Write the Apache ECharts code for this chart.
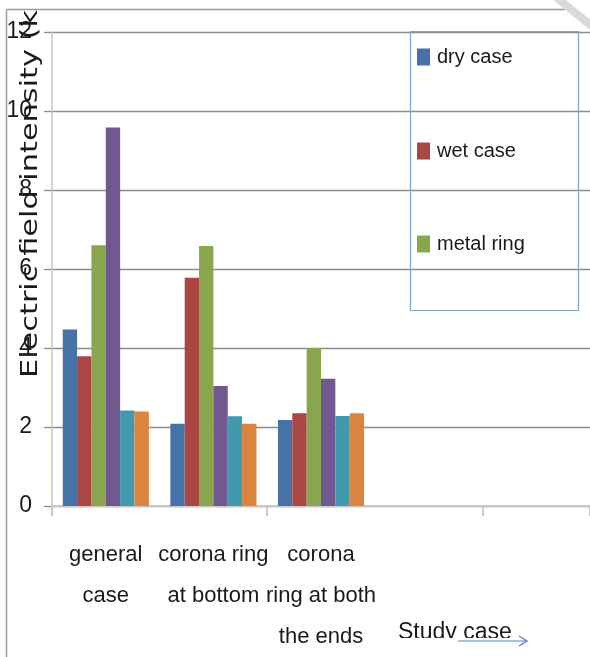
<!DOCTYPE html>
<html>
<head>
<meta charset="utf-8">
<script src="https://cdn.jsdelivr.net/npm/echarts@6/dist/echarts.min.js"></script>
<style>
  html, body { margin: 0; padding: 0; background: #fff; }
  #chart { width: 590px; height: 657px; }
</style>
</head>
<body>
<div id="chart"></div>
<script>
// Study cases along the x axis (two trailing slots are left empty)
const categories = ['general\ncase', 'corona ring\nat bottom', 'corona\nring at both\nthe ends', '', ''];

// Series names (only the first three appear in the legend)
const seriesNames = ['dry case', 'wet case', 'metal ring', 'case 4', 'case 5', 'case 6'];

// Field intensity per study case
const dryCase   = [4.47, 2.08, 2.18, null, null];
const wetCase   = [3.79, 5.78, 2.35, null, null];
const metalRing = [6.60, 6.58, 4.00, null, null];
const case4     = [9.58, 3.04, 3.22, null, null];
const case5     = [2.42, 2.27, 2.28, null, null];
const case6     = [2.39, 2.08, 2.35, null, null];

// Value axis ticks
const yTicks = [0, 2, 4, 6, 8, 10, 12];

const seriesValues = [dryCase, wetCase, metalRing, case4, case5, case6];
const palette = ['#4572A7', '#AA4643', '#89A54E', '#71588F', '#4198AF', '#DB843D'];
const sans = "'Liberation Sans', Arial, sans-serif";

const chart = echarts.init(document.getElementById('chart'), null, { renderer: 'canvas' });

const legendTops = [47, 141, 234];
const legends = [0, 1, 2].map(i => ({
  data: [seriesNames[i]],
  left: 417,
  top: legendTops[i],
  padding: 0,
  itemWidth: 13,
  itemHeight: 17,
  itemGap: 0,
  icon: 'rect',
  textStyle: { fontFamily: sans, fontSize: 20, color: '#1a1a1a', padding: [0, 0, 0, 2] },
  selectedMode: false
}));

chart.setOption({
  animation: false,
  color: palette,
  grid: { left: 52, right: 0, top: 32, bottom: 146, containLabel: false },
  legend: legends,
  xAxis: {
    type: 'category',
    data: categories,
    boundaryGap: true,
    axisLine: { show: true, lineStyle: { color: '#c8c8c8', width: 2 } },
    axisTick: { show: true, interval: 1, length: 10, lineStyle: { color: '#c8c8c8', width: 2 } },
    axisLabel: {
      interval: 0,
      margin: 28,
      fontFamily: sans,
      fontSize: 22,
      lineHeight: 41,
      color: '#1a1a1a',
      align: 'center'
    }
  },
  yAxis: {
    type: 'value',
    min: yTicks[0],
    max: yTicks[yTicks.length - 1],
    interval: yTicks[1] - yTicks[0],
    axisLine: { show: true, lineStyle: { color: '#d4d4d4', width: 2 } },
    axisTick: { show: true, length: 8, lineStyle: { color: '#8c8c8c', width: 1.3 } },
    splitLine: { show: true, lineStyle: { color: '#8c8c8c', width: 1.3 } },
    axisLabel: {
      margin: 20,
      fontFamily: sans,
      fontSize: 23,
      color: '#1a1a1a'
    }
  },
  series: seriesValues.map((vals, i) => ({
    name: seriesNames[i],
    type: 'bar',
    data: vals,
    barGap: '0%',
    barCategoryGap: '20%',
    itemStyle: { color: palette[i] }
  })),
  graphic: [
    // rotated value-axis title, stretched along its reading direction
    {
      type: 'text',
      x: 43,
      y: 378,
      rotation: Math.PI / 2,
      scaleX: 1.32,
      z: 5,
      style: {
        text: 'Electric field intensity (kV/m)',
        fontFamily: 'DejaVu Sans',
        fontSize: 23,
        fill: '#1a1a1a',
        align: 'left',
        verticalAlign: 'bottom'
      }
    },
    // blank strip above the frame
    { type: 'rect', z: 20, shape: { x: 0, y: 0, width: 590, height: 9 }, style: { fill: '#fff' } },
    // outer frame edges
    { type: 'line', z: 21, shape: { x1: 6.5, y1: 9.5, x2: 565, y2: 9.5 }, style: { stroke: '#9a9a9a', lineWidth: 1.5 } },
    { type: 'line', z: 21, shape: { x1: 6.5, y1: 9.5, x2: 6.5, y2: 657 }, style: { stroke: '#9a9a9a', lineWidth: 1.5 } },
    // page corner fold
    { type: 'line', z: 22, shape: { x1: 556, y1: -3, x2: 594, y2: 28 }, style: { stroke: '#d9d9d9', lineWidth: 8 } },
    // legend frame
    {
      type: 'rect', z: 6,
      shape: { x: 410.5, y: 31.5, width: 168, height: 279 },
      style: { fill: 'none', stroke: '#7fa3d1', lineWidth: 1.2 }
    },
    // x-axis caption with arrow, its lower edge cut off
    {
      type: 'text', z: 6, x: 398, y: 621,
      style: { text: 'Study case', fontFamily: sans, fontSize: 23, fill: '#1a1a1a', align: 'left', verticalAlign: 'top' }
    },
    { type: 'rect', z: 7, shape: { x: 390, y: 638, width: 150, height: 19 }, style: { fill: '#fff' } },
    { type: 'line', z: 8, shape: { x1: 458, y1: 641, x2: 527, y2: 641 }, style: { stroke: '#4f81bd', lineWidth: 1.2 } },
    { type: 'polyline', z: 8, shape: { points: [[519, 636], [527, 641], [519, 646]] }, style: { stroke: '#4f81bd', lineWidth: 1.2, fill: 'none' } }
  ]
});
</script>
</body>
</html>
